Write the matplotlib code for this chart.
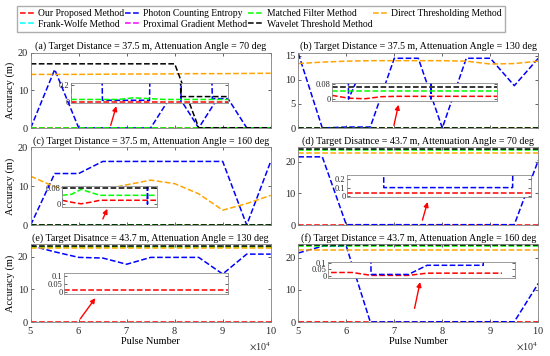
import matplotlib.pyplot as plt
from matplotlib.lines import Line2D

plt.rcParams["font.family"] = "Liberation Serif"
plt.rcParams["mathtext.fontset"] = "stix"
plt.rcParams["font.size"] = 7.2

W, H = 550, 356

PULSES = [50000, 55000, 60000, 65000, 70000, 75000, 80000, 85000, 90000, 95000, 100000]

METHODS = [
    "Our Proposed Method", "Photon Counting Entropy", "Matched Filter Method",
    "Direct Thresholding Method", "Frank-Wolfe Method", "Proximal Gradient Method",
    "Wavelet Threshold Method",
]
COLORS = ["#FF0000", "#0000FF", "#00FF00", "#FFA500", "#00FFFF", "#FF00FF", "#000000"]

TITLES = [
    "(a) Target Distance = 37.5 m, Attenuation Angle = 70 deg",
    "(b) Target Distance = 37.5 m, Attenuation Angle = 130 deg",
    "(c) Target Distance = 37.5 m, Attenuation Angle = 160 deg",
    "(d) Target Disatnce = 43.7 m, Attenuation Angle = 70 deg",
    "(e) Target Disatnce = 43.7 m, Attenuation Angle = 130 deg",
    "(f) Target Distance = 43.7 m, Attenuation Angle = 160 deg",
]

# (a) 37.5 m, 70 deg
A_RED = [0.005, 0.005, 0.005, 0.005, 0.005, 0.005, 0.005, 0.005, 0.005, 0.005, 0.005]
A_BLUE = [0.0, 15.5, 0.02, 0.02, 0.02, 0.02, 10.0, 0.0, 10.0, 0.04, 0.04]
A_GREEN = [0.03, 0.03, 0.03, 0.03, 0.05, 0.04, 0.03, 0.03, 0.03, 0.03, 0.03]
A_ORANGE = [14.2, 14.2, 14.2, 14.25, 14.3, 14.3, 14.35, 14.4, 14.4, 14.45, 14.5]
A_BLACK = [17.0, 17.0, 17.0, 17.0, 17.0, 17.0, 17.0, 0.065, 0.065, 0.065, 0.065]

# (b) 37.5 m, 130 deg
B_RED = [0.02, 0.005, 0.002, 0.013, 0.015, 0.015, 0.015, 0.015, 0.015, 0.015, 0.015]
B_BLUE = [15.5, 0.0, 0.2, 0.2, 14.5, 14.5, 0.0, 14.5, 14.5, 8.8, 14.5]
B_GREEN = [0.042, 0.042, 0.042, 0.042, 0.042, 0.042, 0.042, 0.042, 0.042, 0.042, 0.042]
B_ORANGE = [13.4, 13.7, 13.9, 14.0, 14.0, 14.0, 14.0, 13.9, 13.3, 13.4, 13.9]
B_BLACK = [0.067, 0.067, 0.067, 0.067, 0.067, 0.067, 0.067, 0.067, 0.067, 0.067, 0.067]

# (c) 37.5 m, 160 deg
C_RED = [0.02, 0.01, 0.002, 0.01, 0.02, 0.02, 0.02, 0.02, 0.02, 0.02, 0.02]
C_BLUE = [0.0, 13.2, 13.2, 16.3, 16.3, 16.3, 16.3, 16.3, 16.3, 0.0, 16.3]
C_GREEN = [0.045, 0.05, 0.075, 0.06, 0.045, 0.045, 0.045, 0.045, 0.045, 0.045, 0.045]
C_ORANGE = [12.5, 9.8, 9.0, 9.0, 10.3, 11.5, 10.6, 8.0, 3.8, 5.5, 7.6]
C_BLACK = [0.08, 0.08, 0.08, 0.08, 0.08, 0.08, 0.08, 0.08, 0.08, 0.08, 0.08]

# (d) 43.7 m, 70 deg
D_RED = [0.03, 0.03, 0.03, 0.03, 0.03, 0.03, 0.03, 0.03, 0.03, 0.03, 0.03]
D_BLUE = [21.5, 21.5, 0.1, 0.1, 0.1, 0.1, 0.1, 0.1, 0.1, 0.1, 20.4]
D_GREEN = [23.7, 23.7, 23.7, 23.7, 23.7, 23.7, 23.7, 23.7, 23.7, 23.7, 23.7]
D_ORANGE = [22.8, 22.8, 22.8, 22.8, 22.8, 22.8, 22.8, 22.8, 22.8, 22.8, 22.8]
D_BLACK = [23.9, 23.9, 23.9, 23.9, 23.9, 23.9, 23.9, 23.9, 23.9, 23.9, 23.9]

# (e) 43.7 m, 130 deg
E_RED = [0.012, 0.012, 0.012, 0.012, 0.012, 0.012, 0.012, 0.012, 0.012, 0.012, 0.012]
E_BLUE = [23.4, 21.5, 19.8, 19.6, 17.7, 19.8, 19.8, 19.8, 14.7, 20.8, 20.8]
E_GREEN = [23.1, 23.1, 23.1, 23.1, 23.1, 23.1, 23.1, 23.1, 23.1, 23.1, 23.1]
E_ORANGE = [22.6, 22.6, 22.6, 22.6, 22.6, 22.6, 22.6, 22.6, 22.6, 22.6, 22.6]
E_BLACK = [23.3, 23.3, 23.3, 23.3, 23.3, 23.3, 23.3, 23.3, 23.3, 23.3, 23.3]

# (f) 43.7 m, 160 deg
F_RED = [0.025, 0.025, 0.025, 0.003, 0.003, 0.003, 0.02, 0.02, 0.02, 0.02, 0.02]
F_BLUE = [21.5, 23.6, 23.6, 0.01, 0.01, 0.01, 0.08, 0.08, 0.08, 0.08, 12.0]
F_GREEN = [23.8, 23.8, 23.8, 23.8, 23.8, 23.8, 23.8, 23.8, 23.8, 23.8, 23.8]
F_ORANGE = [22.5, 22.5, 22.5, 22.5, 22.5, 22.5, 22.5, 22.5, 22.5, 22.5, 22.5]
F_BLACK = [24.0, 24.0, 24.0, 24.0, 24.0, 24.0, 24.0, 24.0, 24.0, 24.0, 24.0]

SERIES = [
    [A_RED, A_BLUE, A_GREEN, A_ORANGE, A_BLACK],
    [B_RED, B_BLUE, B_GREEN, B_ORANGE, B_BLACK],
    [C_RED, C_BLUE, C_GREEN, C_ORANGE, C_BLACK],
    [D_RED, D_BLUE, D_GREEN, D_ORANGE, D_BLACK],
    [E_RED, E_BLUE, E_GREEN, E_ORANGE, E_BLACK],
    [F_RED, F_BLUE, F_GREEN, F_ORANGE, F_BLACK],
]
# drawing order: red, blue, green, orange, black
SERIES_COLORS = ["#FF0000", "#0000FF", "#00FF00", "#FFA500", "#000000"]

YLIMS = [(0, 20), (0, 15.7), (0, 20), (0, 24.6), (0, 23.9), (0, 24.3)]
YTICKS = [[0, 10, 20], [0, 5, 10, 15], [0, 10, 20], [0, 10, 20], [0, 10, 20], [0, 10, 20]]

INSET_YLIMS = [(-0.013, 0.23), (-0.01, 0.086), (-0.014, 0.092),
               (-0.012, 0.25), (-0.014, 0.12), (-0.017, 0.105)]
INSET_YTICKS = [[0, 0.2], [0, 0.08], [0, 0.08], [0, 0.1, 0.2], [0, 0.05, 0.1], [0, 0.05, 0.1]]
INSET_XLIMS = [(50000, 100000), (50000, 100000), (50000, 100000),
               (50000, 100000), (50000, 100000), (53500, 103500)]

# arrow tail / head in data units (pulse, accuracy)
ARROWS = [
    ((66500, 0.0), (68000, 6.5)),
    ((69800, 0.0), (71000, 5.4)),
    ((64800, 0.9), (66200, 4.8)),
    ((75700, 0.7), (77100, 8.1)),
    ((60000, 0.3), (63800, 8.0)),
    ((74100, 3.4), (75500, 13.3)),
]

# pixel boxes (left, top, right, bottom)
AX_BOXES = [
    (30.7, 52.5, 270.7, 128), (298.3, 52.5, 538.3, 128),
    (30.7, 147, 270.7, 225), (298.3, 147, 538.3, 225),
    (30.7, 244, 270.7, 322), (298.3, 244, 538.3, 322),
]
INSET_BOXES = [
    (71, 83, 228, 103), (332, 83, 497, 101),
    (62, 186, 157, 207), (347, 175, 531, 197),
    (64, 273, 228, 294), (328, 262, 515, 278),
]


def frac(box):
    l, t, r, b = box
    return [l / W, 1 - b / H, (r - l) / W, (b - t) / H]


def style_axes(ax, spine_color, size):
    for s in ax.spines.values():
        s.set_color(spine_color)
        s.set_linewidth(0.6)
    ax.tick_params(direction="in", length=2.5, width=0.5, colors="0.15",
                   top=True, right=True, labelsize=size, pad=2)


fig = plt.figure(figsize=(W / 100, H / 100), dpi=100)

for i in range(6):
    ax = fig.add_axes(frac(AX_BOXES[i]))
    for ys, c in zip(SERIES[i], SERIES_COLORS):
        ax.plot(PULSES, ys, "--", color=c, lw=1.1)
    ax.set_xlim(50000, 100000)
    ax.set_ylim(*YLIMS[i])
    ax.set_yticks(YTICKS[i])
    ax.set_xticks(PULSES[::2])
    style_axes(ax, "0.5", 7.5)
    ax.set_title(TITLES[i], fontsize=7.2, pad=2.5)
    if i % 2 == 0:
        ax.set_ylabel("Accuracy (m)", fontsize=7.5, labelpad=2)
    if i >= 4:
        ax.ticklabel_format(axis="x", style="sci", scilimits=(4, 4), useMathText=True)
        ax.xaxis.get_offset_text().set_fontsize(7.2)
        ax.set_xlabel("Pulse Number", fontsize=7.5, labelpad=1)
    else:
        ax.tick_params(labelbottom=False)

    (x0, y0), (x1, y1) = ARROWS[i]
    ax.annotate("", xy=(x1, y1), xytext=(x0, y0),
                arrowprops=dict(arrowstyle="-|>", color="red", lw=1.0, mutation_scale=7))

    ins = fig.add_axes(frac(INSET_BOXES[i]))
    for ys, c in zip(SERIES[i], SERIES_COLORS):
        ins.plot(PULSES, ys, "--", color=c, lw=1.1)
    ins.set_xlim(*INSET_XLIMS[i])
    ins.set_ylim(*INSET_YLIMS[i])
    ins.set_yticks(INSET_YTICKS[i])
    ins.set_yticklabels([f"{v:g}" for v in INSET_YTICKS[i]])
    ins.set_xticks([])
    style_axes(ins, "0.55", 6)
    ins.tick_params(axis="y", pad=1, length=2)

handles = [Line2D([], [], ls="--", color=c, lw=1.1) for c in COLORS]
order = [0, 4, 1, 5, 2, 6, 3]
fig.legend([handles[k] for k in order], [METHODS[k] for k in order],
           loc="upper left", bbox_to_anchor=(17 / W, 1 - 6 / H), ncol=4,
           fancybox=False, edgecolor="0.6", fontsize=6.9, handlelength=1.6,
           handletextpad=0.3, columnspacing=0.1, borderpad=0.3, labelspacing=0.2,
           borderaxespad=0)

fig.savefig("out.png", dpi=100)
